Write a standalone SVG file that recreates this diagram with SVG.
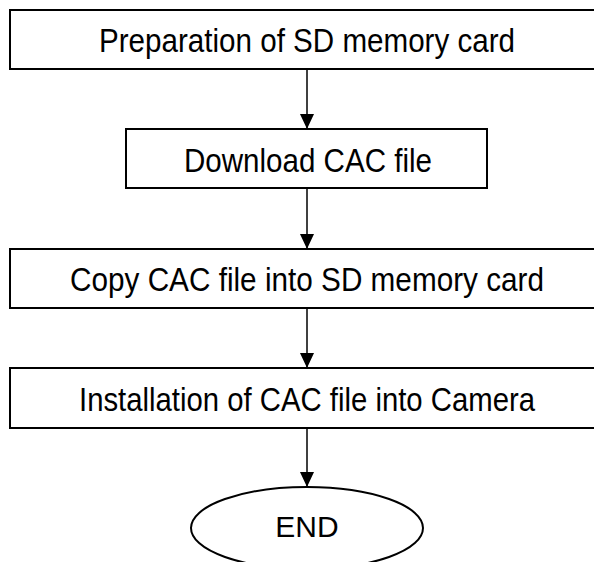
<svg xmlns="http://www.w3.org/2000/svg" width="594" height="562" viewBox="0 0 594 562">
<defs>
<style>
.box{fill:#fff;stroke:#000;stroke-width:2}
.lbl{font-family:"Liberation Sans",Arial,sans-serif;font-size:33px;fill:#000;text-anchor:middle}
.con{stroke:#000;stroke-width:1.5;fill:none}
</style>
<marker id="ah" markerWidth="14" markerHeight="15" refX="15" refY="7" orient="auto" markerUnits="userSpaceOnUse">
<path d="M0,0 L15,7 L0,14 Z" fill="#000"/>
</marker>
</defs>
<rect width="594" height="562" fill="#fff"/>
<g id="connectors">
<line class="con" x1="307" y1="69" x2="307" y2="129" marker-end="url(#ah)"/>
<line class="con" x1="307" y1="188" x2="307" y2="249" marker-end="url(#ah)"/>
<line class="con" x1="307" y1="308" x2="307" y2="368" marker-end="url(#ah)"/>
<line class="con" x1="307" y1="428" x2="307" y2="487" marker-end="url(#ah)"/>
</g>
<g id="n1">
<rect class="box" x="10" y="10" width="594" height="59"/>
<text class="lbl" x="307" y="52" textLength="416" lengthAdjust="spacingAndGlyphs">Preparation of SD memory card</text>
</g>
<g id="n2">
<rect class="box" x="126" y="129" width="361" height="59"/>
<text class="lbl" x="308" y="171.5" textLength="248" lengthAdjust="spacingAndGlyphs">Download CAC file</text>
</g>
<g id="n3">
<rect class="box" x="10" y="249" width="594" height="59"/>
<text class="lbl" x="307" y="291" textLength="474" lengthAdjust="spacingAndGlyphs">Copy CAC file into SD memory card</text>
</g>
<g id="n4">
<rect class="box" x="10" y="368" width="594" height="60"/>
<text class="lbl" x="307" y="410.5" textLength="456" lengthAdjust="spacingAndGlyphs">Installation of CAC file into Camera</text>
</g>
<g id="n5">
<ellipse class="box" cx="307" cy="528" rx="116" ry="41"/>
<text class="lbl" x="307" y="537" style="font-size:30px">END</text>
</g>
</svg>
